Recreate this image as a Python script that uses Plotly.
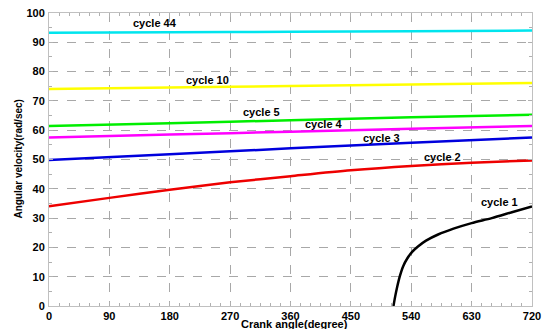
import plotly.graph_objects as go

x_lin = [0, 180, 360, 540, 720]
cycle44 = [93.3, 93.4, 93.6, 93.8, 94.0]
cycle10 = [74.1, 74.6, 75.1, 75.6, 76.1]
cycle5 = [61.4, 62.4, 63.4, 64.4, 65.3]
cycle4 = [57.5, 58.5, 59.5, 60.5, 61.4]
cycle3 = [49.8, 51.8, 53.8, 55.7, 57.5]

x_c2 = [0, 90, 180, 270, 360, 450, 540, 630, 720]
cycle2 = [34.0, 36.9, 39.7, 42.2, 44.3, 46.3, 47.8, 48.9, 49.7]

x_c1 = [513.5, 516, 519, 523, 528, 534, 541, 550, 562, 580, 603, 630, 660, 690, 720]
cycle1 = [0, 3.2, 6.5, 10.2, 13.6, 16.2, 18.4, 20.3, 22.3, 24.4, 26.4, 28.3, 30.0, 32.0, 34.0]

labels = ["cycle 44", "cycle 10", "cycle 5", "cycle 4", "cycle 3", "cycle 2", "cycle 1"]
label_x = [158, 237, 317, 410, 496, 586, 672]
label_y = [96.6, 77.3, 66.3, 62.2, 57.5, 51.0, 35.5]

x_ticks = [0, 90, 180, 270, 360, 450, 540, 630, 720]
y_ticks = [0, 10, 20, 30, 40, 50, 60, 70, 80, 90, 100]

fig = go.Figure()
series = [
    (x_lin, cycle44, "#00e5ee"),
    (x_lin, cycle10, "#ffff00"),
    (x_lin, cycle5, "#00ee00"),
    (x_lin, cycle4, "#ff00ff"),
    (x_lin, cycle3, "#0000dd"),
    (x_c2, cycle2, "#ee0000"),
    (x_c1, cycle1, "#000000"),
]
for xs, ys, c in series:
    fig.add_trace(go.Scatter(x=xs, y=ys, mode="lines",
                             line=dict(color=c, width=2.5, shape="spline", smoothing=0.8),
                             showlegend=False))

for t, lx, ly in zip(labels, label_x, label_y):
    fig.add_annotation(x=lx, y=ly, text=t, showarrow=False,
                       font=dict(family="Liberation Sans, Arial", size=11, color="black", weight="bold"))

axis_common = dict(
    showline=True, linecolor="#c0c0c0", linewidth=1, mirror="ticks",
    showgrid=True, gridcolor="#a8a8a8", griddash="dash", gridwidth=1,
    ticks="inside", ticklen=4, tickcolor="#b0b0b0",
    zeroline=False, automargin=False,
    tickfont=dict(family="Liberation Sans, Arial", size=11, color="black", weight="bold"),
)

fig.update_xaxes(range=[0, 720], tickvals=x_ticks, ticktext=[str(v) for v in x_ticks],
                 minor=dict(dtick=15, ticks="inside", ticklen=3, tickcolor="#b0b0b0", showgrid=False),
                 **axis_common)
fig.update_yaxes(range=[0, 100], tickvals=y_ticks, ticktext=[str(v) for v in y_ticks],
                 minor=dict(dtick=5, ticks="inside", ticklen=3, tickcolor="#b0b0b0", showgrid=False),
                 ticklabelstandoff=1,
                 **axis_common)

fig.add_annotation(xref="paper", yref="paper", x=0.509, y=-0.06, yanchor="middle",
                   text="Crank angle(degree)", showarrow=False,
                   font=dict(family="Liberation Sans, Arial", size=11, color="black", weight="bold"))
fig.add_annotation(xref="paper", yref="paper", x=-0.064, xanchor="center", y=0.5, yanchor="middle",
                   text="Angular velocity(rad/sec)", textangle=-90, showarrow=False,
                   font=dict(family="Liberation Sans, Arial", size=10, color="black", weight="bold"))

fig.update_layout(width=547, height=329, margin=dict(l=49, r=15, t=13, b=23, autoexpand=False),
                  plot_bgcolor="white", paper_bgcolor="white")

# remove the page's default 8px body margin so the figure sits at the window's corner
fig.write_html("out.html", config={"displayModeBar": False},
               post_script="document.body.style.margin='0';")
